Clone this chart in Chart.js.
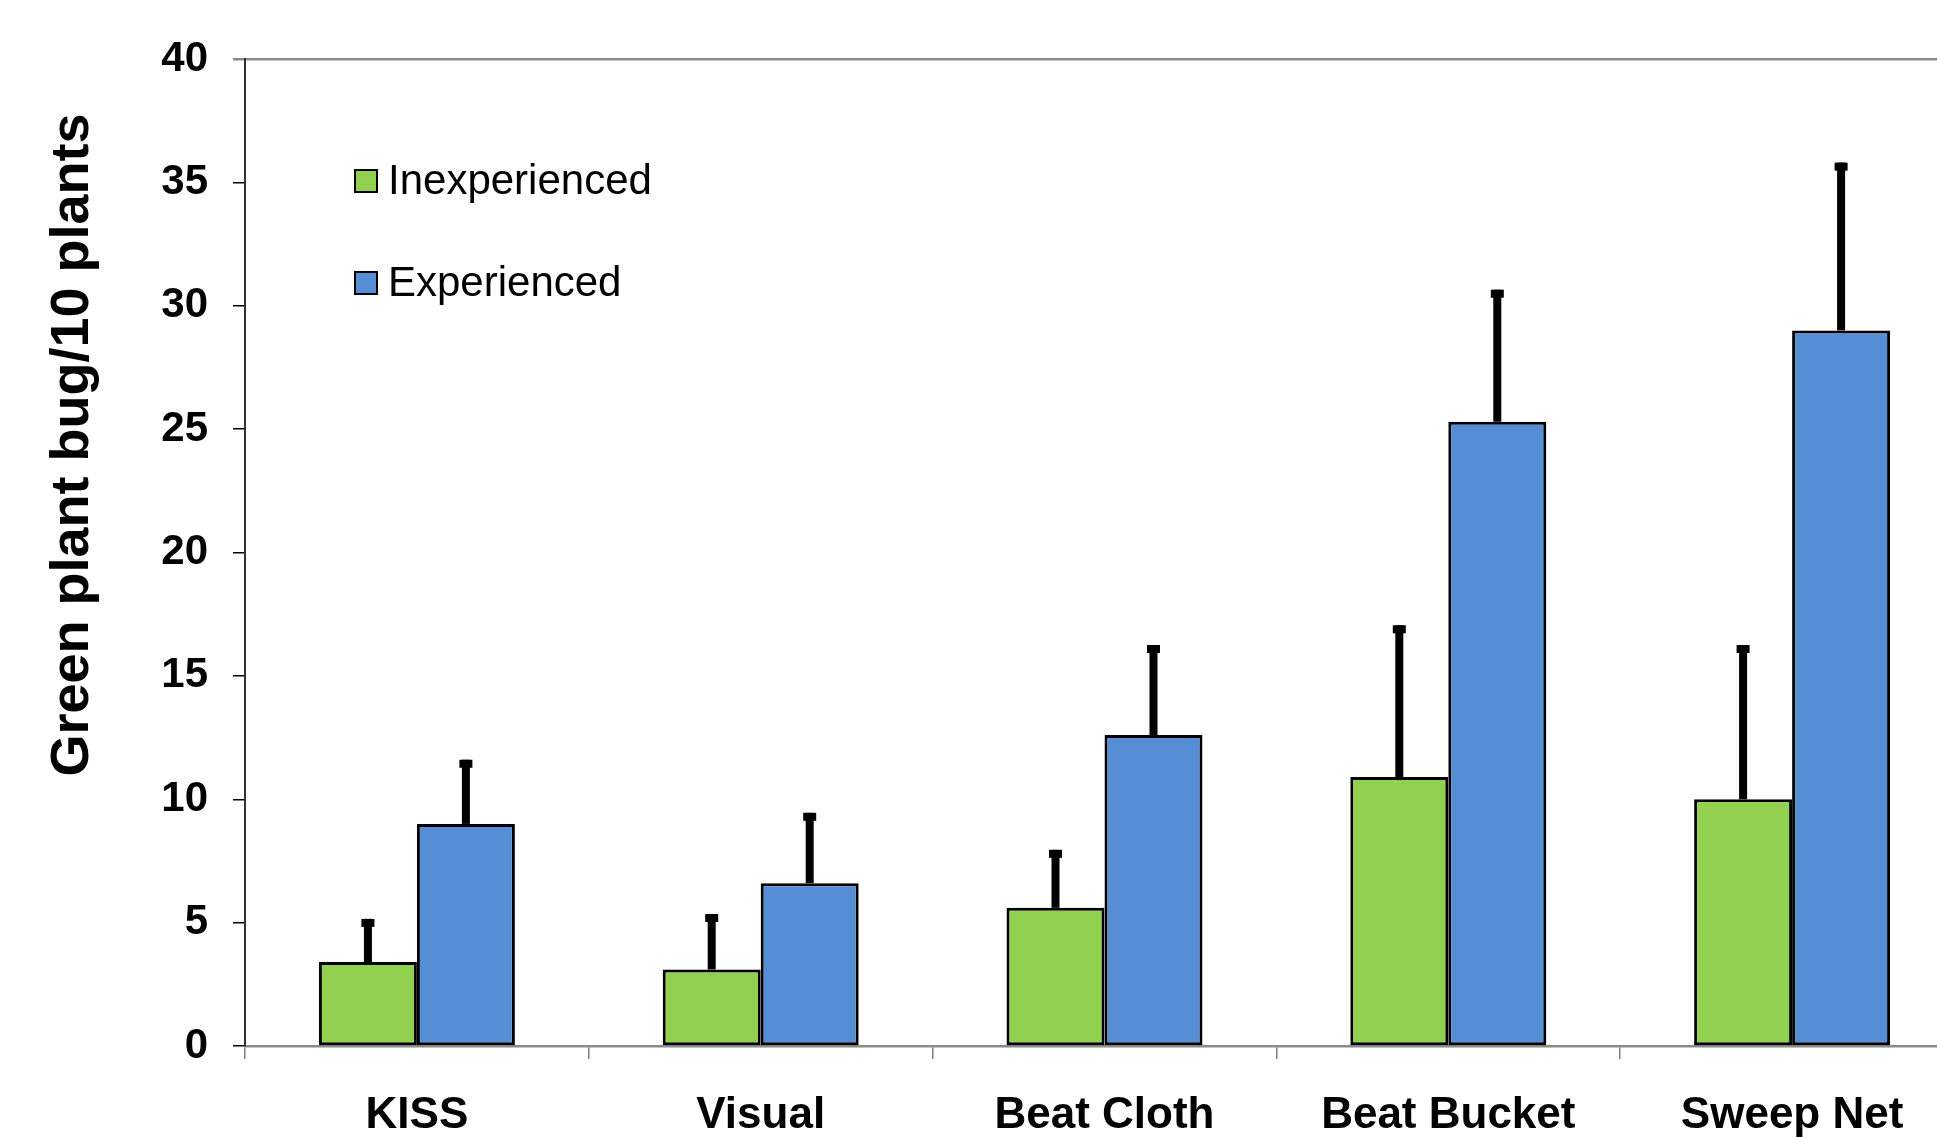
<!DOCTYPE html>
<html>
<head>
<meta charset="utf-8">
<script src="https://cdn.jsdelivr.net/npm/chart.js@4.4.0/dist/chart.umd.min.js"></script>
<style>
  html, body { margin: 0; padding: 0; background: #fff; overflow: hidden; }
  #wrap { width: 1980px; height: 1138px; }
</style>
</head>
<body>
<div id="wrap"><canvas id="myChart"></canvas></div>
<script>
const methods = ['KISS', 'Visual', 'Beat Cloth', 'Beat Bucket', 'Sweep Net'];
const seriesNames = ['Inexperienced', 'Experienced'];
const inexperienced = [3.4, 3.1, 5.6, 10.9, 10.0];
const inexperiencedErr = [1.75, 2.25, 2.35, 6.15, 6.25];
const experienced = [9.0, 6.6, 12.6, 25.3, 29.0];
const experiencedErr = [2.6, 2.85, 3.65, 5.35, 6.8];
const yTicks = [0, 5, 10, 15, 20, 25, 30, 35, 40];
const yTitle = 'Green plant bug/10 plants';

const FONT = '"Liberation Sans", Arial, sans-serif';
const errors = [inexperiencedErr, experiencedErr];

// error bars on top of each bar (upper side only)
const errorBars = {
    id: 'errorBars',
    afterDatasetsDraw(chart) {
        const ctx = chart.ctx;
        const y = chart.scales.y;
        chart.data.datasets.forEach((ds, d) => {
            const meta = chart.getDatasetMeta(d);
            meta.data.forEach((bar, i) => {
                const top = y.getPixelForValue(ds.data[i] + errors[d][i]);
                ctx.save();
                ctx.fillStyle = '#000';
                ctx.fillRect(bar.x - 4, top, 8, bar.y - top);
                ctx.fillRect(bar.x - 6.5, top, 13, 8);
                ctx.restore();
            });
        });
    }
};

// legend inside the plot + rotated axis title
const extras = {
    id: 'extras',
    afterDraw(chart) {
        const ctx = chart.ctx;
        ctx.save();
        chart.data.datasets.forEach((ds, d) => {
            const top = 170 + d * 102;
            ctx.fillStyle = ds.backgroundColor;
            ctx.fillRect(355, top, 22, 22);
            ctx.lineWidth = 2;
            ctx.strokeStyle = '#000';
            ctx.strokeRect(355, top, 22, 22);
            ctx.fillStyle = '#000';
            ctx.font = '42px ' + FONT;
            ctx.textBaseline = 'alphabetic';
            ctx.textAlign = 'left';
            ctx.fillText(ds.label, 388, top + 24);
        });
        ctx.translate(73, 445);
        ctx.rotate(-Math.PI / 2);
        ctx.font = 'bold 54px ' + FONT;
        ctx.textAlign = 'center';
        ctx.textBaseline = 'middle';
        ctx.fillText(yTitle, 0, 0);
        ctx.restore();
    }
};

const dataChart = {
    labels: methods,
    datasets: [
        {
            label: seriesNames[0],
            data: inexperienced,
            backgroundColor: '#92d050',
            borderColor: '#000',
            borderWidth: 3,
            borderSkipped: false,
        },
        {
            label: seriesNames[1],
            data: experienced,
            backgroundColor: '#558ed5',
            borderColor: '#000',
            borderWidth: 3,
            borderSkipped: false,
        },
    ],
};

const configChart = {
    type: 'bar',
    data: dataChart,
    options: {
        responsive: true,
        maintainAspectRatio: false,
        animation: false,
        barPercentage: 1,
        categoryPercentage: 0.57,
        layout: { padding: { top: 59, right: 16, left: 0, bottom: 0 } },
        plugins: {
            legend: { display: false },
            tooltip: { enabled: false },
        },
        scales: {
            x: {
                grid: {
                    offset: true,
                    drawOnChartArea: false,
                    tickLength: 13,
                    tickColor: '#808080',
                    lineWidth: 1.5,
                },
                border: { color: '#8a8a8a', width: 2.5 },
                ticks: {
                    color: '#000',
                    padding: 30,
                    font: { family: FONT, size: 44, weight: 'bold' },
                },
                afterFit: scale => { scale.height = 92; },
            },
            y: {
                min: 0,
                max: 40,
                afterBuildTicks: scale => {
                    scale.ticks = yTicks.map(v => ({ value: v }));
                },
                grid: {
                    color: c => c.tick && c.tick.value === 40 ? '#8a8a8a' : 'transparent',
                    tickColor: c => c.tick && c.tick.value === 40 ? '#8a8a8a' : '#000',
                    lineWidth: c => c.tick && c.tick.value === 40 ? 2.5 : 1.5,
                    tickLength: 12,
                },
                border: { color: '#333', width: 2 },
                ticks: {
                    color: '#000',
                    padding: 25,
                    font: { family: FONT, size: 42, weight: 'bold' },
                },
                afterFit: scale => { scale.width = 245; },
            },
        },
    },
    plugins: [errorBars, extras],
};

const myChart = new Chart(document.getElementById('myChart'), configChart);
</script>
</body>
</html>
